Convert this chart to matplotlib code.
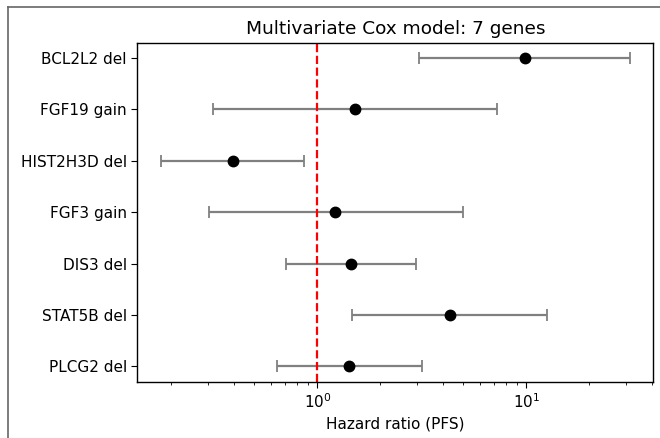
import matplotlib
matplotlib.use("Agg")
import matplotlib.pyplot as plt
from matplotlib.lines import Line2D
import numpy as np

# hazard ratios with 95% CI
genes = ["BCL2L2 del", "FGF19 gain", "HIST2H3D del", "FGF3 gain",
         "DIS3 del", "STAT5B del", "PLCG2 del"]
hr = [9.8, 1.51, 0.394, 1.22, 1.455, 4.30, 1.42]
ci_low = [3.08, 0.317, 0.178, 0.302, 0.705, 1.47, 0.644]
ci_high = [31.3, 7.26, 0.867, 4.97, 2.98, 12.6, 3.16]

plt.rcParams['font.size'] = 11
plt.rcParams['axes.linewidth'] = 1.0
plt.rcParams['xtick.major.size'] = 4
plt.rcParams['ytick.major.size'] = 4
plt.rcParams['xtick.minor.size'] = 2.5

hr = np.array(hr)
err = [hr - np.array(ci_low), np.array(ci_high) - hr]
ypos = np.arange(len(genes))

fig = plt.figure(figsize=(6.6, 4.38), dpi=100)
ax = fig.add_axes([0.208, 0.1285, 0.782, 0.774])

ax.errorbar(hr, ypos, xerr=err, fmt='o', color='black', ecolor='gray',
            elinewidth=1.6, capsize=4.5, capthick=1.3, markersize=7.5)
ax.axvline(1, color='red', linestyle='--', linewidth=1.6)

ax.set_xscale('log')
ax.set_yticks(ypos)
ax.set_yticklabels(genes)
ax.invert_yaxis()
ax.set_xlabel('Hazard ratio (PFS)')
ax.set_title('Multivariate Cox model: 7 genes', fontsize=13.3)

# frame left over from the screenshot
fig.add_artist(Line2D([8 / 660, 8 / 660], [0, 1 - 7 / 438],
                      transform=fig.transFigure, color='#666666', lw=1.2))
fig.add_artist(Line2D([8 / 660, 1], [1 - 7 / 438, 1 - 7 / 438],
                      transform=fig.transFigure, color='#666666', lw=1.2))

fig.savefig('out.png', dpi=100)
